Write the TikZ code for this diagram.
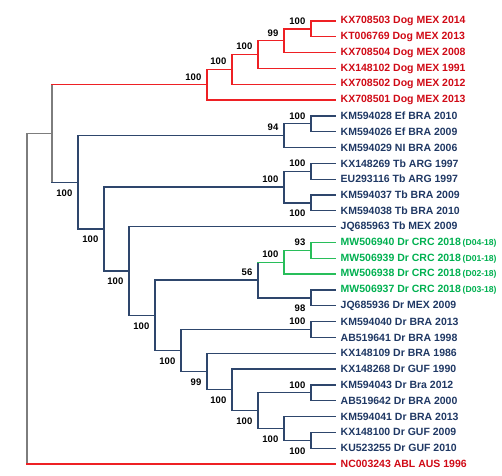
\documentclass[tikz,border=0pt]{standalone}
\usepackage{fontspec}
\setmainfont{Liberation Sans}
\usetikzlibrary{calc}
\definecolor{redline}{RGB}{238,32,36}
\definecolor{redtext}{RGB}{208,10,22}
\definecolor{navyline}{RGB}{46,70,108}
\definecolor{navytext}{RGB}{31,56,100}
\definecolor{greenline}{RGB}{40,190,90}
\definecolor{greentext}{RGB}{0,176,80}
\definecolor{grayline}{RGB}{125,125,125}
\newcommand\subtag[1]{{\fontsize{8.6}{10}\selectfont #1}}
\begin{document}
\begin{tikzpicture}[x={(1pt,0)},y={(0,-1pt)},
  br/.style={line width=1.3pt,line cap=rect},
  rb/.style={br,draw=redline},
  nb/.style={br,draw=navyline},
  gb/.style={br,draw=greenline},
  yb/.style={br,draw=grayline},
  leaf/.style={anchor=west,inner xsep=5.5pt,inner ysep=0pt,font=\fontsize{10.5}{12}\selectfont\bfseries},
  rleaf/.style={leaf,text=redtext},
  nleaf/.style={leaf,text=navytext},
  gleaf/.style={leaf,text=greentext},
  boot/.style={anchor=east,inner sep=0pt,font=\fontsize{9.5}{11}\selectfont\bfseries,text=black}
]
\useasboundingbox (0,0) rectangle (502,475);
% ---------- leaves ----------
\node[rleaf] (l0)  at (335,21.00)  {KX708503 Dog MEX 2014};
\node[rleaf] (l1)  at (335,36.82)  {KT006769 Dog MEX 2013};
\node[rleaf] (l2)  at (335,52.64)  {KX708504 Dog MEX 2008};
\node[rleaf] (l3)  at (335,68.46)  {KX148102 Dog MEX 1991};
\node[rleaf] (l4)  at (335,84.28)  {KX708502 Dog MEX 2012};
\node[rleaf] (l5)  at (335,100.10) {KX708501 Dog MEX 2013};
\node[nleaf] (l6)  at (335,115.92) {KM594028 Ef BRA 2010};
\node[nleaf] (l7)  at (335,131.74) {KM594026 Ef BRA 2009};
\node[nleaf] (l8)  at (335,147.56) {KM594029 NI BRA 2006};
\node[nleaf] (l9)  at (335,163.38) {KX148269 Tb ARG 1997};
\node[nleaf] (l10) at (335,179.20) {EU293116 Tb ARG 1997};
\node[nleaf] (l11) at (335,195.02) {KM594037 Tb BRA 2009};
\node[nleaf] (l12) at (335,210.84) {KM594038 Tb BRA 2010};
\node[nleaf] (l13) at (335,226.66) {JQ685963 Tb MEX 2009};
\node[gleaf] (l14) at (335,242.48) {MW506940 Dr CRC 2018\,\subtag{(D04-18)}};
\node[gleaf] (l15) at (335,258.30) {MW506939 Dr CRC 2018\,\subtag{(D01-18)}};
\node[gleaf] (l16) at (335,274.12) {MW506938 Dr CRC 2018\,\subtag{(D02-18)}};
\node[gleaf] (l17) at (335,289.94) {MW506937 Dr CRC 2018\,\subtag{(D03-18)}};
\node[nleaf] (l18) at (335,305.76) {JQ685936 Dr MEX 2009};
\node[nleaf] (l19) at (335,321.58) {KM594040 Dr BRA 2013};
\node[nleaf] (l20) at (335,337.40) {AB519641 Dr BRA 1998};
\node[nleaf] (l21) at (335,353.22) {KX148109 Dr BRA 1986};
\node[nleaf] (l22) at (335,369.04) {KX148268 Dr GUF 1990};
\node[nleaf] (l23) at (335,384.86) {KM594043 Dr Bra 2012};
\node[nleaf] (l24) at (335,400.68) {AB519642 Dr BRA 2000};
\node[nleaf] (l25) at (335,416.50) {KM594041 Dr BRA 2013};
\node[nleaf] (l26) at (335,432.32) {KX148100 Dr GUF 2009};
\node[nleaf] (l27) at (335,448.14) {KU523255 Dr GUF 2010};
\node[rleaf] (l28) at (335,463.96) {NC003243 ABL AUS 1996};
% ---------- internal nodes ----------
\coordinate (a311) at (311,28.91);
\coordinate (a284) at (284,40.78);
\coordinate (a258) at (258,54.62);
\coordinate (a232) at (232,69.45);
\coordinate (a207) at (207,84.78);
\coordinate (b311) at (311,123.83);
\coordinate (b284) at (284,135.70);
\coordinate (c311) at (311,171.29);
\coordinate (d311) at (311,202.93);
\coordinate (c284) at (284,187.11);
\coordinate (e311) at (311,250.39);
\coordinate (e284) at (284,262.26);
\coordinate (f311) at (311,297.85);
\coordinate (e258) at (258,280.05);
\coordinate (g311) at (311,329.49);
\coordinate (h311) at (311,392.77);
\coordinate (i311) at (311,440.23);
\coordinate (i284) at (284,428.37);
\coordinate (h258) at (258,410.57);
\coordinate (h232) at (232,389.80);
\coordinate (h207) at (207,371.51);
\coordinate (g181) at (181,350.50);
\coordinate (n155) at (155,315.28);
\coordinate (n129) at (129,270.97);
\coordinate (n104) at (104,229.04);
\coordinate (n78)  at (78,182.37);
\coordinate (n52)  at (52,133.58);
\coordinate (n27)  at (27,298.77);
% ---------- verticals ----------
\draw[yb] (n27 |- n52) -- (n27 |- l28.west);
\draw[yb] (n52 |- a207) -- (n52 |- n78);
\draw[rb] (a207 |- a232) -- (a207 |- l5.west);
\draw[rb] (a232 |- a258) -- (a232 |- l4.west);
\draw[rb] (a258 |- a284) -- (a258 |- l3.west);
\draw[rb] (a284 |- a311) -- (a284 |- l2.west);
\draw[rb] (a311 |- l0.west) -- (a311 |- l1.west);
\draw[nb] (n78 |- b284) -- (n78 |- n104);
\draw[nb] (b284 |- b311) -- (b284 |- l8.west);
\draw[nb] (b311 |- l6.west) -- (b311 |- l7.west);
\draw[nb] (n104 |- c284) -- (n104 |- n129);
\draw[nb] (c284 |- c311) -- (c284 |- d311);
\draw[nb] (c311 |- l9.west) -- (c311 |- l10.west);
\draw[nb] (d311 |- l11.west) -- (d311 |- l12.west);
\draw[nb] (n129 |- l13.west) -- (n129 |- n155);
\draw[nb] (n155 |- e258) -- (n155 |- g181);
\draw[nb] (e258 |- e284) -- (e258 |- f311);
\draw[gb] (e284 |- e311) -- (e284 |- l16.west);
\draw[gb] (e311 |- l14.west) -- (e311 |- l15.west);
\draw[nb] (f311 |- l17.west) -- (f311 |- l18.west);
\draw[nb] (g181 |- g311) -- (g181 |- h207);
\draw[nb] (g311 |- l19.west) -- (g311 |- l20.west);
\draw[nb] (h207 |- l21.west) -- (h207 |- h232);
\draw[nb] (h232 |- l22.west) -- (h232 |- h258);
\draw[nb] (h258 |- h311) -- (h258 |- i284);
\draw[nb] (h311 |- l23.west) -- (h311 |- l24.west);
\draw[nb] (i284 |- l25.west) -- (i284 |- i311);
\draw[nb] (i311 |- l26.west) -- (i311 |- l27.west);
% ---------- horizontals ----------
\draw[yb] (n27 |- n52) -- (n52);
\draw[rb] (n27 |- l28.west) -- (l28.west);
\draw[rb] (n52 |- a207) -- (a207);
\draw[nb] (n52 |- n78) -- (n78);
\draw[rb] (a207 |- a232) -- (a232);
\draw[rb] (a207 |- l5.west) -- (l5.west);
\draw[rb] (a232 |- a258) -- (a258);
\draw[rb] (a232 |- l4.west) -- (l4.west);
\draw[rb] (a258 |- a284) -- (a284);
\draw[rb] (a258 |- l3.west) -- (l3.west);
\draw[rb] (a284 |- a311) -- (a311);
\draw[rb] (a284 |- l2.west) -- (l2.west);
\draw[rb] (a311 |- l0.west) -- (l0.west);
\draw[rb] (a311 |- l1.west) -- (l1.west);
\draw[nb] (n78 |- b284) -- (b284);
\draw[nb] (n78 |- n104) -- (n104);
\draw[nb] (b284 |- b311) -- (b311);
\draw[nb] (b284 |- l8.west) -- (l8.west);
\draw[nb] (b311 |- l6.west) -- (l6.west);
\draw[nb] (b311 |- l7.west) -- (l7.west);
\draw[nb] (n104 |- c284) -- (c284);
\draw[nb] (n104 |- n129) -- (n129);
\draw[nb] (c284 |- c311) -- (c311);
\draw[nb] (c284 |- d311) -- (d311);
\draw[nb] (c311 |- l9.west) -- (l9.west);
\draw[nb] (c311 |- l10.west) -- (l10.west);
\draw[nb] (d311 |- l11.west) -- (l11.west);
\draw[nb] (d311 |- l12.west) -- (l12.west);
\draw[nb] (n129 |- l13.west) -- (l13.west);
\draw[nb] (n129 |- n155) -- (n155);
\draw[nb] (n155 |- e258) -- (e258);
\draw[nb] (n155 |- g181) -- (g181);
\draw[gb] (e258 |- e284) -- (e284);
\draw[nb] (e258 |- f311) -- (f311);
\draw[gb] (e284 |- e311) -- (e311);
\draw[gb] (e284 |- l16.west) -- (l16.west);
\draw[gb] (e311 |- l14.west) -- (l14.west);
\draw[gb] (e311 |- l15.west) -- (l15.west);
\draw[nb] (f311 |- l17.west) -- (l17.west);
\draw[nb] (f311 |- l18.west) -- (l18.west);
\draw[nb] (g181 |- g311) -- (g311);
\draw[nb] (g181 |- h207) -- (h207);
\draw[nb] (g311 |- l19.west) -- (l19.west);
\draw[nb] (g311 |- l20.west) -- (l20.west);
\draw[nb] (h207 |- l21.west) -- (l21.west);
\draw[nb] (h207 |- h232) -- (h232);
\draw[nb] (h232 |- l22.west) -- (l22.west);
\draw[nb] (h232 |- h258) -- (h258);
\draw[nb] (h258 |- h311) -- (h311);
\draw[nb] (h258 |- i284) -- (i284);
\draw[nb] (h311 |- l23.west) -- (l23.west);
\draw[nb] (h311 |- l24.west) -- (l24.west);
\draw[nb] (i284 |- l25.west) -- (l25.west);
\draw[nb] (i284 |- i311) -- (i311);
\draw[nb] (i311 |- l26.west) -- (l26.west);
\draw[nb] (i311 |- l27.west) -- (l27.west);
% ---------- bootstrap values ----------
\node[boot] (ba311) at ($(a311)+(-5.5,-8)$) {100};
\node[boot] (ba284) at ($(a284)+(-5.5,-8)$) {99};
\node[boot] (ba258) at ($(a258)+(-5.5,-8)$) {100};
\node[boot] (ba232) at ($(a232)+(-5.5,-8)$) {100};
\node[boot] (ba207) at ($(a207)+(-5.5,-8)$) {100};
\node[boot] (bb311) at ($(b311)+(-5.5,-8)$) {100};
\node[boot] (bb284) at ($(b284)+(-5.5,-8)$) {94};
\node[boot] (bn78)  at ($(n78)+(-5.5,10.5)$) {100};
\node[boot] (bc311) at ($(c311)+(-5.5,-8)$) {100};
\node[boot] (bc284) at ($(c284)+(-5.5,-8)$) {100};
\node[boot] (bd311) at ($(d311)+(-5.5,10.5)$) {100};
\node[boot] (bn104) at ($(n104)+(-5.5,10.5)$) {100};
\node[boot] (bn129) at ($(n129)+(-5.5,10.5)$) {100};
\node[boot] (bn155) at ($(n155)+(-5.5,10.5)$) {100};
\node[boot] (be258) at ($(e258)+(-5.5,-8)$) {56};
\node[boot] (be284) at ($(e284)+(-5.5,-8)$) {100};
\node[boot] (be311) at ($(e311)+(-5.5,-8)$) {93};
\node[boot] (bf311) at ($(f311)+(-5.5,10.5)$) {98};
\node[boot] (bg181) at ($(g181)+(-5.5,10.5)$) {100};
\node[boot] (bg311) at ($(g311)+(-5.5,-8)$) {100};
\node[boot] (bh207) at ($(h207)+(-5.5,10.5)$) {99};
\node[boot] (bh232) at ($(h232)+(-5.5,10.5)$) {100};
\node[boot] (bh258) at ($(h258)+(-5.5,10.5)$) {100};
\node[boot] (bh311) at ($(h311)+(-5.5,-8)$) {100};
\node[boot] (bi284) at ($(i284)+(-5.5,10.5)$) {100};
\node[boot] (bi311) at ($(i311)+(-5.5,10.5)$) {100};
\end{tikzpicture}
\end{document}
